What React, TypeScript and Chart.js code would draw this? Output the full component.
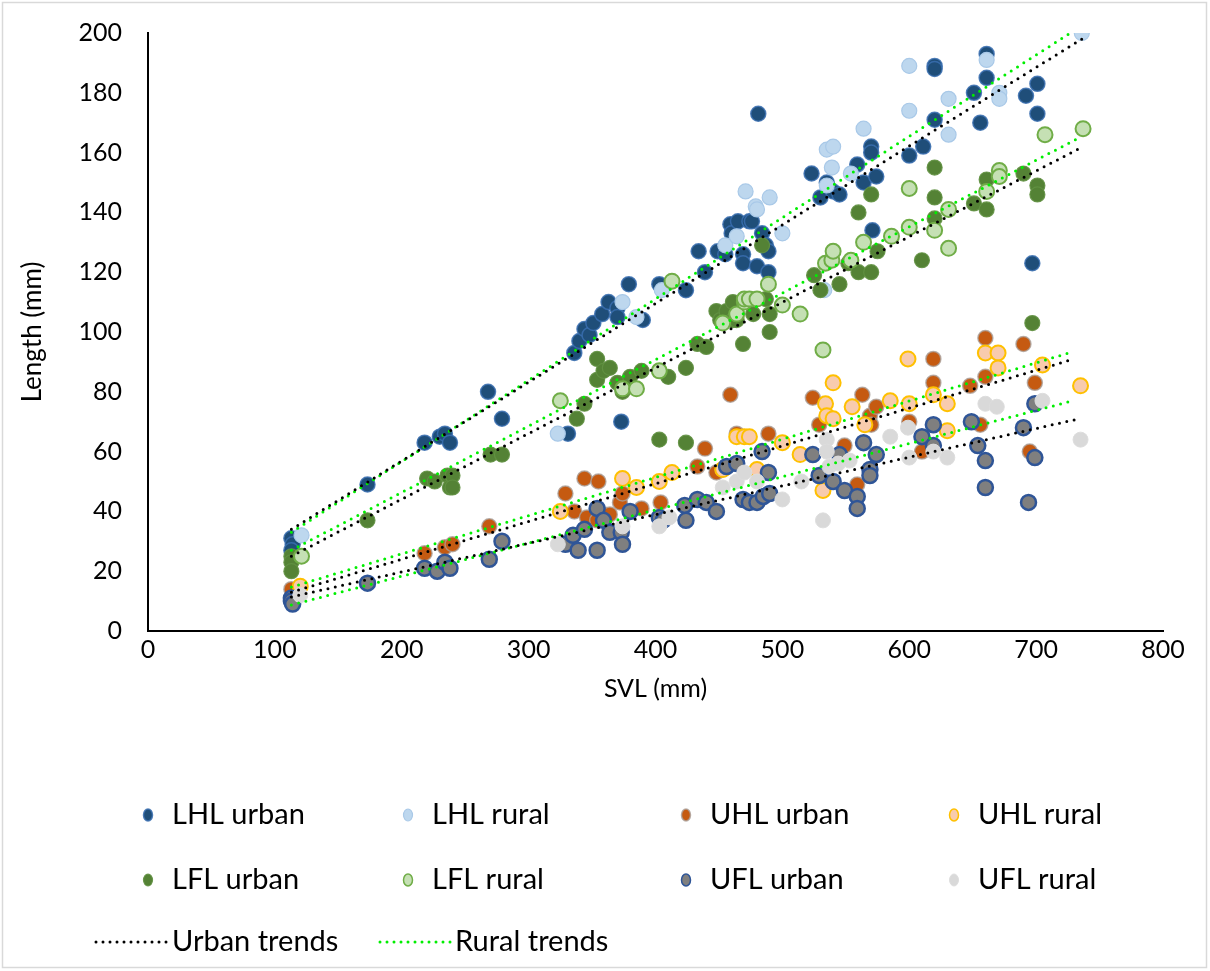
import { useEffect, useRef } from "react";
import { Chart, registerables } from "chart.js";

Chart.register(...registerables);

type Pt = [number, number];

// Limb lengths (mm) against snout–vent length (mm)
const lhlUrban: Pt[] = [
  [113, 31], [114, 29], [113, 27], [173, 49], [218, 63], [230, 65], [234, 66], [238, 63],
  [268, 80], [279, 71], [331, 66], [336, 93], [340, 97], [344, 101], [348, 99], [351, 103],
  [358, 106], [363, 110], [370, 108], [370, 105], [373, 70], [379, 116], [390, 104], [403, 116],
  [424, 114], [434, 127], [439, 120], [449, 127], [455, 126], [459, 136], [460, 133], [465, 137],
  [469, 126], [469, 123], [474, 137], [476, 137], [480, 122], [481, 173], [484, 133], [487, 129],
  [489, 127], [489, 120], [523, 153], [530, 145], [535, 150], [540, 147], [545, 146], [559, 156],
  [564, 150], [570, 162], [570, 160], [571, 134], [574, 152], [600, 159], [611, 162], [620, 189],
  [620, 188], [620, 171], [651, 180], [656, 170], [661, 193], [661, 185], [692, 179], [697, 123],
  [701, 183], [701, 173],
];

const lhlRural: Pt[] = [
  [121, 32], [323, 66], [374, 110], [385, 105], [405, 114], [455, 129], [464, 132], [471, 147],
  [479, 142], [480, 141], [490, 145], [500, 133], [533, 114], [535, 161], [535, 149], [539, 155],
  [540, 162], [554, 153], [564, 168], [600, 189], [600, 174], [631, 178], [631, 166], [661, 191],
  [671, 180], [671, 178], [736, 200],
];

const uhlUrban: Pt[] = [
  [113, 14], [218, 26], [234, 28], [240, 29], [269, 35], [329, 46], [336, 40], [344, 51],
  [346, 38], [354, 37], [355, 50], [359, 39], [364, 39], [372, 43], [374, 46], [389, 41],
  [404, 43], [433, 55], [439, 61], [448, 53], [453, 54], [459, 79], [464, 66], [489, 66],
  [524, 78], [529, 69], [549, 62], [559, 49], [563, 79], [569, 72], [570, 69], [574, 75],
  [600, 70], [610, 60], [619, 91], [619, 83], [648, 82], [656, 69], [660, 98], [660, 85],
  [690, 96], [695, 60], [699, 83],
];

const uhlRural: Pt[] = [
  [120, 15], [325, 40], [374, 51], [385, 48], [403, 50], [413, 53], [453, 54], [464, 65],
  [470, 65], [474, 65], [480, 54], [500, 63], [514, 59], [532, 47], [534, 76], [535, 72],
  [540, 71], [540, 83], [555, 75], [565, 69], [585, 77], [599, 91], [600, 76], [619, 79],
  [630, 76], [630, 67], [660, 93], [670, 93], [670, 88], [705, 89], [735, 82],
];

const lflUrban: Pt[] = [
  [113, 25], [113, 23], [113, 20], [173, 37], [220, 51], [226, 50], [236, 52], [238, 48],
  [240, 52], [240, 48], [270, 59], [279, 59], [338, 71], [344, 76], [354, 91], [354, 84],
  [359, 87], [364, 88], [370, 83], [374, 80], [380, 85], [389, 87], [403, 64], [410, 85],
  [424, 88], [424, 63], [433, 96], [440, 95], [448, 107], [451, 104], [456, 107], [461, 110],
  [461, 104], [464, 104], [469, 96], [477, 106], [484, 129], [487, 111], [490, 106], [490, 100],
  [525, 119], [530, 114], [545, 116], [552, 123], [560, 120], [560, 140], [570, 120], [570, 146],
  [575, 127], [610, 124], [620, 155], [620, 145], [620, 138], [651, 143], [661, 151], [661, 141],
  [690, 153], [697, 103], [701, 149], [701, 146],
];

const lflRural: Pt[] = [
  [121, 25], [325, 77], [374, 81], [385, 81], [403, 87], [413, 117], [453, 103], [464, 106],
  [470, 110], [470, 111], [474, 111], [480, 111], [489, 116], [500, 109], [514, 106], [532, 94],
  [534, 123], [539, 124], [540, 127], [554, 124], [564, 130], [586, 132], [600, 135], [600, 148],
  [620, 134], [631, 128], [631, 141], [661, 147], [671, 154], [671, 152], [707, 166], [737, 168],
];

const uflUrban: Pt[] = [
  [113, 11], [113, 10], [114, 9], [173, 16], [218, 21], [228, 20], [234, 23], [238, 21],
  [269, 24], [279, 30], [329, 29], [335, 32], [339, 27], [344, 34], [354, 27], [354, 41],
  [359, 37], [364, 33], [373, 33], [374, 29], [380, 40], [403, 38], [406, 37], [423, 42],
  [424, 37], [433, 44], [440, 43], [448, 40], [456, 55], [464, 56], [469, 44], [474, 43],
  [480, 43], [484, 60], [485, 45], [489, 53], [490, 46], [524, 59], [529, 52], [540, 50],
  [545, 59], [549, 47], [559, 45], [559, 41], [564, 63], [569, 54], [569, 52], [574, 59],
  [610, 65], [619, 69], [619, 62], [649, 70], [654, 62], [660, 57], [660, 48], [690, 68],
  [694, 43], [699, 76], [699, 58],
];

const uflRural: Pt[] = [
  [120, 12], [323, 29], [374, 35], [403, 35], [411, 38], [453, 48], [464, 50], [470, 53],
  [480, 50], [500, 44], [515, 50], [532, 37], [535, 64], [535, 60], [537, 55], [544, 56],
  [553, 57], [585, 65], [599, 68], [600, 58], [619, 60], [630, 58], [660, 76], [669, 75],
  [705, 77], [735, 64],
];

// Linear trend lines, start and end points
const urbanTrends: Pt[][] = [
  [[113, 34], [738, 198.5]],
  [[113, 25], [737, 162]],
  [[113, 13], [730, 91]],
  [[113, 11.4], [734, 71]],
];
const ruralTrends: Pt[][] = [
  [[113, 33], [727, 200]],
  [[113, 27], [734, 165]],
  [[113, 14.7], [729, 93.4]],
  [[113, 8.7], [729, 77]],
];

const xTickValues = [0, 100, 200, 300, 400, 500, 600, 700, 800];
const yTickValues = [0, 20, 40, 60, 80, 100, 120, 140, 160, 180, 200];

const FONT = "Lato, 'Open Sans', sans-serif";

type Style = { label: string; data: Pt[]; fill: string; stroke: string; width: number };

const pointSeries: Style[] = [
  { label: "LHL urban", data: lhlUrban, fill: "#1F4E79", stroke: "rgba(58,111,176,0.85)", width: 1.5 },
  { label: "LHL rural", data: lhlRural, fill: "#BDD7EE", stroke: "#A9C9E8", width: 1.2 },
  { label: "UHL urban", data: uhlUrban, fill: "#C55A11", stroke: "rgba(170,160,155,0.8)", width: 1.5 },
  { label: "UHL rural", data: uhlRural, fill: "#F8CBAD", stroke: "#FFC000", width: 2 },
  { label: "LFL urban", data: lflUrban, fill: "#548235", stroke: "rgba(98,145,66,0.9)", width: 1.2 },
  { label: "LFL rural", data: lflRural, fill: "#C5E0B4", stroke: "#70AD47", width: 2 },
  { label: "UFL urban", data: uflUrban, fill: "#7F7F7F", stroke: "#2F5597", width: 2.5 },
  { label: "UFL rural", data: uflRural, fill: "#D9D9D9", stroke: "#DDDDDD", width: 1 },
];

const URBAN_COLOR = "#000000";
const RURAL_COLOR = "#00EE00";
const DOT_DASH = [0, 7.5];

const legendPlugin = {
  id: "gridLegend",
  afterDraw(chart: any) {
    const ctx = chart.ctx as CanvasRenderingContext2D;
    ctx.save();
    // outer frame
    ctx.strokeStyle = "#D9D9D9";
    ctx.lineWidth = 1.5;
    ctx.strokeRect(2.5, 2.5, chart.width - 6, chart.height - 6);

    const colText = [172, 432, 710, 978];
    const rows = [815, 880];
    ctx.font = `29px ${FONT}`;
    ctx.textBaseline = "middle";
    ctx.textAlign = "left";
    pointSeries.forEach((s, i) => {
      const col = i % 4;
      const row = Math.floor(i / 4);
      const tx = colText[col];
      const ty = rows[row];
      const mx = tx - 24;
      ctx.beginPath();
      ctx.ellipse(mx, ty, 4.5, 6, 0, 0, Math.PI * 2);
      ctx.fillStyle = s.fill;
      ctx.fill();
      ctx.lineWidth = Math.min(s.width, 1.5);
      ctx.strokeStyle = s.stroke;
      ctx.stroke();
      ctx.fillStyle = "#000";
      ctx.fillText(s.label, tx, ty);
    });

    const trendRow = 942;
    const drawDots = (x0: number, x1: number, color: string) => {
      ctx.beginPath();
      ctx.setLineDash([0, 7]);
      ctx.lineCap = "round";
      ctx.lineWidth = 3;
      ctx.strokeStyle = color;
      ctx.moveTo(x0, trendRow);
      ctx.lineTo(x1, trendRow);
      ctx.stroke();
      ctx.setLineDash([]);
    };
    drawDots(96, 168, URBAN_COLOR);
    ctx.fillStyle = "#000";
    ctx.fillText("Urban trends", 172, trendRow);
    drawDots(380, 451, RURAL_COLOR);
    ctx.fillStyle = "#000";
    ctx.fillText("Rural trends", 455, trendRow);
    ctx.restore();
  },
};

export default function App() {
  const ref = useRef<HTMLCanvasElement | null>(null);

  useEffect(() => {
    const canvas = ref.current;
    if (!canvas) return;

    const trendSet = (pts: Pt[], color: string, label: string) => ({
      type: "line" as const,
      label,
      data: pts.map(([x, y]) => ({ x, y })),
      borderColor: color,
      borderWidth: 3,
      borderDash: DOT_DASH,
      borderCapStyle: "round" as const,
      pointRadius: 0,
      fill: false,
      order: 0,
    });

    const datasets: any[] = [
      ...urbanTrends.map((t, i) => trendSet(t, URBAN_COLOR, `Urban trend ${i + 1}`)),
      ...ruralTrends.map((t, i) => trendSet(t, RURAL_COLOR, `Rural trend ${i + 1}`)),
      ...pointSeries.map((s, i) => ({
        type: "scatter" as const,
        label: s.label,
        data: s.data.map(([x, y]) => ({ x, y })),
        backgroundColor: s.fill,
        borderColor: s.stroke,
        pointBackgroundColor: s.fill,
        pointBorderColor: s.stroke,
        pointBorderWidth: s.width,
        pointRadius: 7.5,
        order: pointSeries.length - i,
      })),
    ];

    const chart = new Chart(canvas, {
      type: "scatter",
      data: { datasets },
      plugins: [legendPlugin],
      options: {
        animation: false,
        responsive: false,
        devicePixelRatio: 1,
        layout: { padding: { left: 8, top: 33, right: 47, bottom: 260 } },
        plugins: {
          legend: { display: false },
          tooltip: { enabled: false },
        },
        scales: {
          x: {
            type: "linear",
            min: 0,
            max: 800,
            afterBuildTicks: (s: any) => {
              s.ticks = xTickValues.map((v) => ({ value: v }));
            },
            afterFit: (s: any) => {
              s.height = 80;
            },
            ticks: { color: "#000", font: { family: FONT, size: 25 }, padding: 4 },
            grid: { display: false, drawTicks: false },
            border: { display: true, color: "#000", width: 2 },
            title: {
              display: true,
              text: "SVL (mm)",
              color: "#000",
              font: { family: FONT, size: 25 },
              padding: { top: 0, bottom: 7 },
            },
          },
          y: {
            type: "linear",
            min: 0,
            max: 200,
            afterBuildTicks: (s: any) => {
              s.ticks = yTickValues.map((v) => ({ value: v }));
            },
            afterFit: (s: any) => {
              s.width = 140;
              // labels sit beside the axis; they need no extra room above or below it
              s.paddingTop = 0;
              s.paddingBottom = 0;
            },
            ticks: { color: "#000", font: { family: FONT, size: 25 }, padding: 26 },
            grid: { display: false, drawTicks: false },
            border: { display: true, color: "#000", width: 2 },
            title: {
              display: true,
              text: "Length (mm)",
              color: "#000",
              font: { family: FONT, size: 26 },
              padding: { top: 9, bottom: 0 },
            },
          },
        },
      },
    } as any);

    return () => chart.destroy();
  }, []);

  return (
    <div style={{ position: "absolute", left: 0, top: 0, width: 1210, height: 971, background: "#fff" }}>
      <canvas ref={ref} width={1210} height={971} style={{ width: 1210, height: 971, display: "block" }} />
    </div>
  );
}
